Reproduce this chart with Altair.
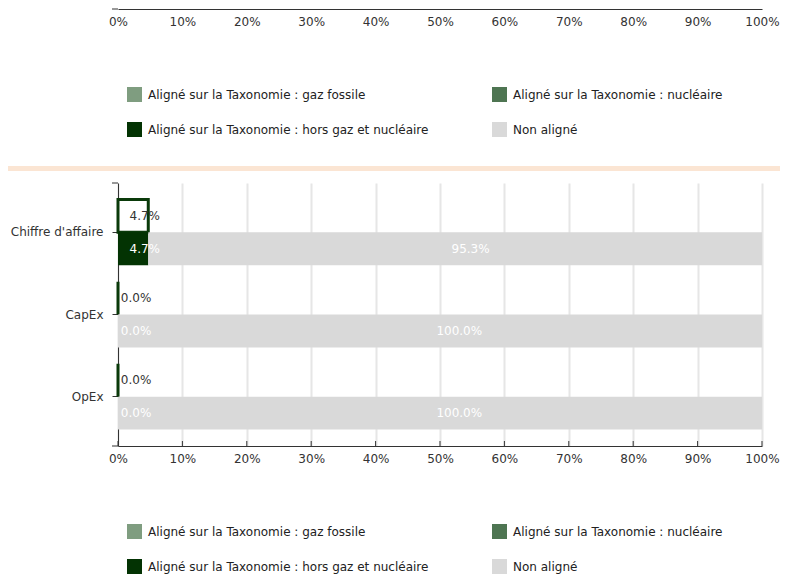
import altair as alt
import pandas as pd

# ---- data ----
categories = ["Chiffre d'affaire", "CapEx", "OpEx"]
series = [
    "Aligné sur la Taxonomie : gaz fossile",
    "Aligné sur la Taxonomie : nucléaire",
    "Aligné sur la Taxonomie : hors gaz et nucléaire",
    "Non aligné",
]
colors = ["#7f9d80", "#4e7552", "#033303", "#d9d9d9"]
gaz_fossile = [0.0, 0.0, 0.0]
nucleaire = [0.0, 0.0, 0.0]
hors_gaz_nucleaire = [0.047, 0.0, 0.0]
non_aligne = [0.953, 1.0, 1.0]
aligne_total = [0.047, 0.0, 0.0]
labelled_series = ["Aligné sur la Taxonomie : hors gaz et nucléaire", "Non aligné"]
tick_values = [0, 0.1, 0.2, 0.3, 0.4, 0.5, 0.6, 0.7, 0.8, 0.9, 1.0]

rows = []
for s_i, (name, vals) in enumerate(zip(series, [gaz_fossile, nucleaire, hors_gaz_nucleaire, non_aligne])):
    for c, v in zip(categories, vals):
        rows.append({"cat": c, "row": "b", "series": name, "value": v, "idx": s_i})
bottom_df = pd.DataFrame(rows)
top_df = pd.DataFrame({"cat": categories, "row": ["a"] * 3, "value": aligne_total})
ticks_df = pd.DataFrame({"t": tick_values})
one_df = pd.DataFrame({"k": [0]})

W, H = 644, 263
AXIS = "#333"
xs = alt.Scale(domain=[0, 1], nice=False, zero=True)

axis_c = alt.Axis(values=tick_values, format="%", title=None, grid=True, gridColor="#e6e6e6",
                  gridWidth=2, ticks=False, labelPadding=7, labelFlush=False, domainColor=AXIS)
axis_a = alt.Axis(values=tick_values, format="%", title=None, grid=False,
                  ticks=False, labelPadding=7, labelFlush=False, domainColor=AXIS)

Y = alt.Y("cat:N", sort=categories, title=None,
          scale=alt.Scale(paddingInner=0.2, paddingOuter=0.2),
          axis=alt.Axis(tickSize=6, labelPadding=9, domainColor=AXIS, tickColor=AXIS))
YO = alt.YOffset("row:N", sort=["a", "b"], scale=alt.Scale(paddingInner=0, paddingOuter=0))


def legend(y):
    return alt.Legend(orient="none", legendX=9, legendY=y, columns=2, direction="horizontal",
                      title=None, symbolType="square", symbolSize=225, symbolStrokeWidth=0,
                      symbolOpacity=1, labelFontSize=12, labelColor="#222", rowPadding=20,
                      columnPadding=63, labelOffset=6, padding=0, labelLimit=400)


color_scale = alt.Scale(domain=series, range=colors)

# ---- top chart: only the bottom of it (axis + legend) is in view ----
a_bars = alt.Chart(bottom_df).transform_filter("false").transform_stack(
    stack="value", groupby=["cat"], as_=["v0", "v1"], sort=[alt.SortField("idx")]
).mark_bar().encode(
    x=alt.X("v0:Q", scale=xs, axis=axis_a),
    x2="v1:Q",
    color=alt.Color("series:N", scale=color_scale, legend=legend(79)),
)
a_cap = alt.Chart(one_df).mark_rule(color=AXIS, strokeWidth=1).encode(
    x=alt.value(-6), x2=alt.value(0), y=alt.value(1)
)
chart_a = alt.layer(a_bars, a_cap).properties(width=W, height=1)

# ---- separator ----
chart_b = alt.Chart(one_df).mark_rect(color="#fbe5d3").encode(
    x=alt.value(-110), x2=alt.value(662), y=alt.value(19), y2=alt.value(24)
).properties(width=W, height=25)

# ---- main chart ----
top_bars = alt.Chart(top_df).mark_bar(fill="white", stroke="#0a3a0a", strokeWidth=3).encode(
    x=alt.X("value:Q", scale=xs, axis=axis_c, stack=None), y=Y, yOffset=YO
)
top_text = alt.Chart(top_df).transform_calculate(
    lx="max(datum.value / 2, 0.01)", lab="format(datum.value, '.1%')"
).mark_text(align="left", baseline="middle", dx=-3.6, fontSize=12, color="#333").encode(
    x=alt.X("lx:Q", scale=xs, axis=axis_c), y=Y, yOffset=YO, text="lab:N"
)
stacked = alt.Chart(bottom_df).transform_stack(
    stack="value", groupby=["cat"], as_=["v0", "v1"], sort=[alt.SortField("idx")]
)
bottom_bars = stacked.mark_bar().encode(
    x=alt.X("v0:Q", scale=xs, axis=axis_c), x2="v1:Q", y=Y, yOffset=YO,
    color=alt.Color("series:N", scale=color_scale, legend=legend(H + 78)),
)
bottom_text = stacked.transform_filter(
    alt.FieldOneOfPredicate(field="series", oneOf=labelled_series)
).transform_calculate(
    lx="max((datum.v0 + datum.v1) / 2, 0.01)", lab="format(datum.value, '.1%')"
).mark_text(align="left", baseline="middle", dx=-3.6, fontSize=12, color="white").encode(
    x=alt.X("lx:Q", scale=xs, axis=axis_c), y=Y, yOffset=YO, text="lab:N"
)
x_ticks = alt.Chart(ticks_df).mark_rule(color=AXIS, strokeWidth=1).encode(
    x=alt.X("t:Q", scale=xs, axis=axis_c), y=alt.value(H - 5), y2=alt.value(H)
)
cap_top = alt.Chart(one_df).mark_rule(color=AXIS, strokeWidth=1).encode(
    x=alt.value(-6), x2=alt.value(0), y=alt.value(0)
)
cap_bottom = alt.Chart(one_df).mark_rule(color=AXIS, strokeWidth=1).encode(
    x=alt.value(-6), x2=alt.value(0), y=alt.value(H)
)
chart_c = alt.layer(top_bars, bottom_bars, top_text, bottom_text, x_ticks, cap_top, cap_bottom).properties(
    width=W, height=H
)

chart = alt.vconcat(chart_a, chart_b, chart_c, spacing=10).resolve_legend(
    color="independent"
).properties(
    padding={"left": 0, "top": 0, "right": 0, "bottom": 0}
).configure(font="DejaVu Sans").configure_view(stroke=None).configure_axis(
    labelFont="DejaVu Sans", labelFontSize=12, labelColor="#333"
).configure_legend(labelFont="DejaVu Sans")

chart.save("out.html", embed_options={"renderer": "svg", "actions": False})
